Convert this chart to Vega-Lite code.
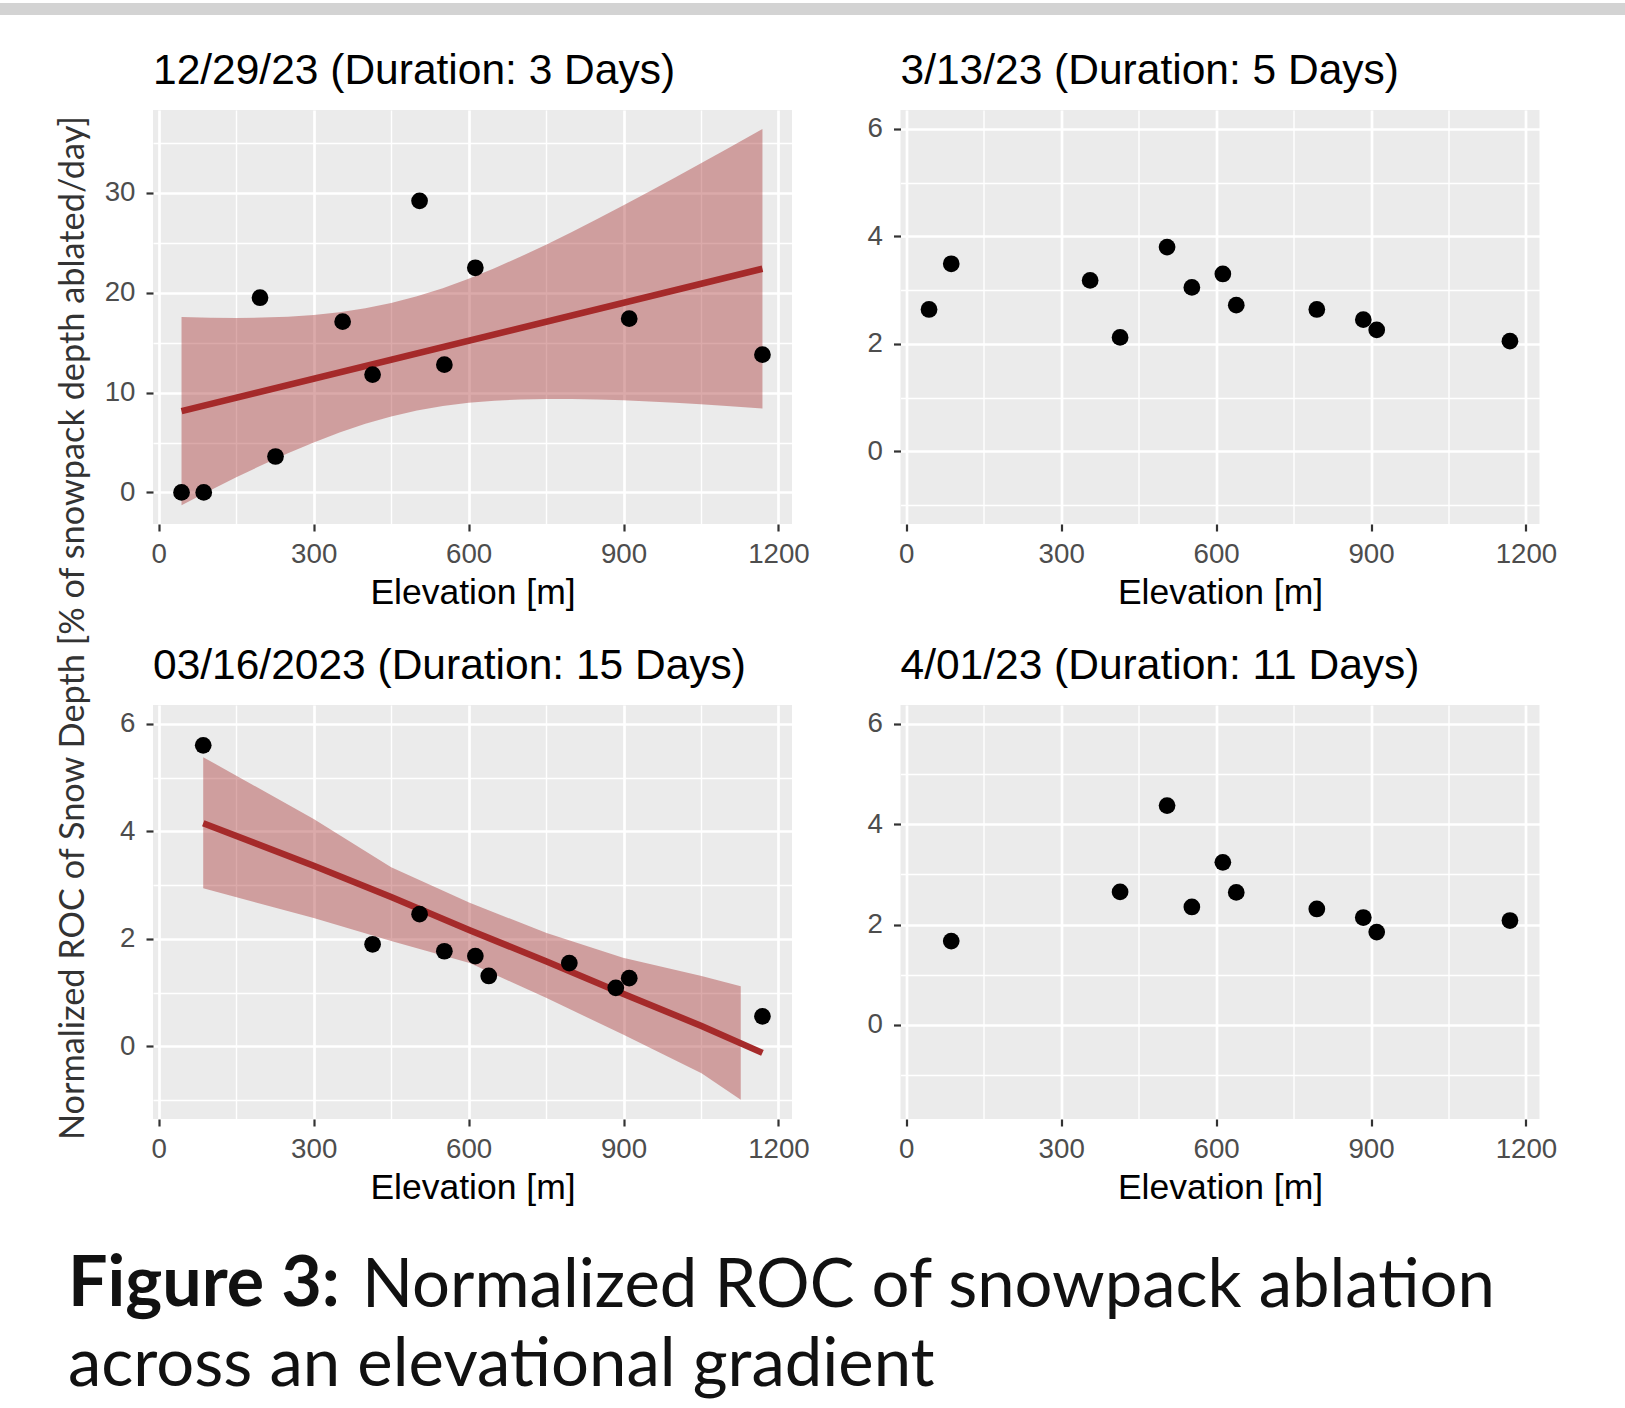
{
  "$schema": "https://vega.github.io/schema/vega-lite/v6.json",
  "padding": {"left": 0, "top": 3, "right": 0, "bottom": 0},
  "background": "white",
  "config": {
    "view": {"stroke": null},
    "font": "Liberation Sans",
    "axis": {"domain": false, "grid": true, "gridColor": "#FFFFFF", "tickColor": "#333333", "tickWidth": 2.2, "tickSize": 7, "labelFont": "Liberation Sans", "labelFontSize": 27.7, "labelColor": "#4D4D4D", "labelOverlap": false, "labelFlush": false, "labelBound": false, "titleFont": "Liberation Sans", "titleFontSize": 35.5, "titleFontWeight": "normal", "titleColor": "#000000"},
    "axisX": {"labelPadding": 9, "titlePadding": 8},
    "axisY": {"labelPadding": 11},
    "title": {"font": "Liberation Sans", "fontSize": 42.5, "fontWeight": "normal", "color": "#000000", "anchor": "start", "frame": "group", "baseline": "alphabetic", "offset": 17.5}
  },
  "datasets": {
    "empty": [],
    "tl_pts": [{"elev": 44, "v": 0}, {"elev": 87, "v": 0}, {"elev": 196, "v": 19.5}, {"elev": 226, "v": 3.6}, {"elev": 356, "v": 17.1}, {"elev": 414, "v": 11.8}, {"elev": 505, "v": 29.2}, {"elev": 553, "v": 12.8}, {"elev": 613, "v": 22.5}, {"elev": 911, "v": 17.4}, {"elev": 1169, "v": 13.8}],
    "tl_fit": [{"elev": 44, "v": 8.15}, {"elev": 1169, "v": 22.4}],
    "tl_band": [{"elev": 44, "lo": -1.28, "hi": 17.58}, {"elev": 100, "lo": 0.22, "hi": 17.5}, {"elev": 150, "lo": 1.51, "hi": 17.47}, {"elev": 200, "lo": 2.75, "hi": 17.51}, {"elev": 250, "lo": 3.92, "hi": 17.6}, {"elev": 300, "lo": 5.01, "hi": 17.77}, {"elev": 350, "lo": 6.01, "hi": 18.05}, {"elev": 400, "lo": 6.88, "hi": 18.44}, {"elev": 450, "lo": 7.6, "hi": 18.98}, {"elev": 500, "lo": 8.2, "hi": 19.64}, {"elev": 550, "lo": 8.66, "hi": 20.46}, {"elev": 600, "lo": 8.98, "hi": 21.4}, {"elev": 650, "lo": 9.19, "hi": 22.45}, {"elev": 700, "lo": 9.32, "hi": 23.6}, {"elev": 750, "lo": 9.37, "hi": 24.81}, {"elev": 800, "lo": 9.36, "hi": 26.08}, {"elev": 850, "lo": 9.32, "hi": 27.4}, {"elev": 900, "lo": 9.23, "hi": 28.75}, {"elev": 950, "lo": 9.11, "hi": 30.13}, {"elev": 1000, "lo": 8.98, "hi": 31.54}, {"elev": 1050, "lo": 8.82, "hi": 32.96}, {"elev": 1100, "lo": 8.65, "hi": 34.39}, {"elev": 1169, "lo": 8.4, "hi": 36.4}],
    "tr_pts": [{"elev": 44, "v": 2.64}, {"elev": 87, "v": 3.49}, {"elev": 356, "v": 3.18}, {"elev": 414, "v": 2.12}, {"elev": 505, "v": 3.8}, {"elev": 553, "v": 3.05}, {"elev": 613, "v": 3.3}, {"elev": 639, "v": 2.72}, {"elev": 795, "v": 2.64}, {"elev": 885, "v": 2.45}, {"elev": 911, "v": 2.26}, {"elev": 1169, "v": 2.05}],
    "bl_pts": [{"elev": 86, "v": 5.6}, {"elev": 414, "v": 1.9}, {"elev": 505, "v": 2.46}, {"elev": 553, "v": 1.77}, {"elev": 613, "v": 1.68}, {"elev": 639, "v": 1.31}, {"elev": 795, "v": 1.55}, {"elev": 885, "v": 1.09}, {"elev": 911, "v": 1.27}, {"elev": 1169, "v": 0.56}],
    "bl_fit": [{"elev": 86, "v": 4.15}, {"elev": 300, "v": 3.36}, {"elev": 450, "v": 2.78}, {"elev": 602, "v": 2.16}, {"elev": 751, "v": 1.58}, {"elev": 899, "v": 0.98}, {"elev": 1051, "v": 0.38}, {"elev": 1169, "v": -0.12}],
    "bl_band": [{"elev": 86, "lo": 2.94, "hi": 5.38}, {"elev": 300, "lo": 2.39, "hi": 4.23}, {"elev": 450, "lo": 1.96, "hi": 3.33}, {"elev": 602, "lo": 1.55, "hi": 2.67}, {"elev": 751, "lo": 0.9, "hi": 2.11}, {"elev": 899, "lo": 0.22, "hi": 1.65}, {"elev": 1051, "lo": -0.5, "hi": 1.31}, {"elev": 1127, "lo": -0.99, "hi": 1.12}],
    "br_pts": [{"elev": 87, "v": 1.67}, {"elev": 414, "v": 2.65}, {"elev": 505, "v": 4.37}, {"elev": 553, "v": 2.35}, {"elev": 613, "v": 3.24}, {"elev": 639, "v": 2.64}, {"elev": 795, "v": 2.31}, {"elev": 885, "v": 2.14}, {"elev": 911, "v": 1.85}, {"elev": 1169, "v": 2.08}]
  },
  "spacing": 35,
  "vconcat": [
    {"width": 1625, "height": 12, "view": {"fill": "#D3D3D3", "stroke": null}, "data": {"name": "empty"}, "mark": "point"},
    {
      "spacing": 43,
      "vconcat": [
        {
          "spacing": 55,
          "hconcat": [
            {"width": 1, "height": 1, "data": {"name": "empty"}, "mark": "point"},
            {
              "columns": 2,
              "spacing": {"row": 33, "column": 56.5},
              "title": {"text": "Normalized ROC of Snow Depth [% of snowpack depth ablated/day]", "orient": "left", "anchor": "middle", "frame": "bounds", "font": "Lato", "fontSize": 34.3, "fontWeight": "normal", "color": "#333333", "baseline": "alphabetic", "offset": -13.8},
              "concat": [
                {
                  "width": 639, "height": 414,
                  "view": {"fill": "#EBEBEB", "stroke": null},
                  "title": {"text": "12/29/23 (Duration: 3 Days)"},
                  "encoding": {"x": {"field": "elev", "type": "quantitative", "scale": {"domain": [-11.25, 1226.25], "nice": false, "zero": false}, "axis": {"title": "Elevation [m]", "values": [0, 150, 300, 450, 600, 750, 900, 1050, 1200], "format": "d", "labelExpr": "datum.value % 300 === 0 ? datum.label : ''", "gridWidth": {"condition": {"test": "datum.value % 300 === 0", "value": 2.7}, "value": 1.4}, "tickOpacity": {"condition": {"test": "datum.value % 300 === 0", "value": 1}, "value": 0}}}},
                  "layer": [
                    {"data": {"name": "tl_band"}, "mark": {"type": "area", "color": "#A52A2A", "opacity": 0.4}, "encoding": {"y": {"field": "lo", "type": "quantitative", "scale": {"domain": [-3.16, 38.3], "nice": false, "zero": false}, "axis": {"title": null, "values": [0, 5, 10, 15, 20, 25, 30, 35], "format": "d", "labelExpr": "datum.value % 10 === 0 ? datum.label : ''", "gridWidth": {"condition": {"test": "datum.value % 10 === 0", "value": 2.7}, "value": 1.4}, "tickOpacity": {"condition": {"test": "datum.value % 10 === 0", "value": 1}, "value": 0}}}, "y2": {"field": "hi"}}},
                    {"data": {"name": "tl_fit"}, "mark": {"type": "line", "color": "#A52A2A", "strokeWidth": 6.5}, "encoding": {"y": {"field": "v", "type": "quantitative", "scale": {"domain": [-3.16, 38.3], "nice": false, "zero": false}, "axis": {"title": null, "values": [0, 5, 10, 15, 20, 25, 30, 35], "format": "d", "labelExpr": "datum.value % 10 === 0 ? datum.label : ''", "gridWidth": {"condition": {"test": "datum.value % 10 === 0", "value": 2.7}, "value": 1.4}, "tickOpacity": {"condition": {"test": "datum.value % 10 === 0", "value": 1}, "value": 0}}}}},
                    {"data": {"name": "tl_pts"}, "mark": {"type": "circle", "color": "#000000", "opacity": 1, "size": 280}, "encoding": {"y": {"field": "v", "type": "quantitative", "scale": {"domain": [-3.16, 38.3], "nice": false, "zero": false}, "axis": {"title": null, "values": [0, 5, 10, 15, 20, 25, 30, 35], "format": "d", "labelExpr": "datum.value % 10 === 0 ? datum.label : ''", "gridWidth": {"condition": {"test": "datum.value % 10 === 0", "value": 2.7}, "value": 1.4}, "tickOpacity": {"condition": {"test": "datum.value % 10 === 0", "value": 1}, "value": 0}}}}}
                  ]
                },
                {
                  "width": 639, "height": 414,
                  "view": {"fill": "#EBEBEB", "stroke": null},
                  "title": {"text": "3/13/23 (Duration: 5 Days)"},
                  "data": {"name": "tr_pts"},
                  "mark": {"type": "circle", "color": "#000000", "opacity": 1, "size": 280},
                  "encoding": {
                    "x": {"field": "elev", "type": "quantitative", "scale": {"domain": [-11.25, 1226.25], "nice": false, "zero": false}, "axis": {"title": "Elevation [m]", "values": [0, 150, 300, 450, 600, 750, 900, 1050, 1200], "format": "d", "labelExpr": "datum.value % 300 === 0 ? datum.label : ''", "gridWidth": {"condition": {"test": "datum.value % 300 === 0", "value": 2.7}, "value": 1.4}, "tickOpacity": {"condition": {"test": "datum.value % 300 === 0", "value": 1}, "value": 0}}},
                    "y": {"field": "v", "type": "quantitative", "scale": {"domain": [-1.35, 6.35], "nice": false, "zero": false}, "axis": {"title": null, "values": [-1, 0, 1, 2, 3, 4, 5, 6], "format": "d", "labelExpr": "datum.value % 2 === 0 ? datum.label : ''", "gridWidth": {"condition": {"test": "datum.value % 2 === 0", "value": 2.7}, "value": 1.4}, "tickOpacity": {"condition": {"test": "datum.value % 2 === 0", "value": 1}, "value": 0}}}
                  }
                },
                {
                  "width": 639, "height": 414,
                  "view": {"fill": "#EBEBEB", "stroke": null},
                  "title": {"text": "03/16/2023 (Duration: 15 Days)"},
                  "encoding": {"x": {"field": "elev", "type": "quantitative", "scale": {"domain": [-11.25, 1226.25], "nice": false, "zero": false}, "axis": {"title": "Elevation [m]", "values": [0, 150, 300, 450, 600, 750, 900, 1050, 1200], "format": "d", "labelExpr": "datum.value % 300 === 0 ? datum.label : ''", "gridWidth": {"condition": {"test": "datum.value % 300 === 0", "value": 2.7}, "value": 1.4}, "tickOpacity": {"condition": {"test": "datum.value % 300 === 0", "value": 1}, "value": 0}}}},
                  "layer": [
                    {"data": {"name": "bl_band"}, "mark": {"type": "area", "color": "#A52A2A", "opacity": 0.4}, "encoding": {"y": {"field": "lo", "type": "quantitative", "scale": {"domain": [-1.35, 6.35], "nice": false, "zero": false}, "axis": {"title": null, "values": [-1, 0, 1, 2, 3, 4, 5, 6], "format": "d", "labelExpr": "datum.value % 2 === 0 ? datum.label : ''", "gridWidth": {"condition": {"test": "datum.value % 2 === 0", "value": 2.7}, "value": 1.4}, "tickOpacity": {"condition": {"test": "datum.value % 2 === 0", "value": 1}, "value": 0}}}, "y2": {"field": "hi"}}},
                    {"data": {"name": "bl_fit"}, "mark": {"type": "line", "color": "#A52A2A", "strokeWidth": 6.5}, "encoding": {"y": {"field": "v", "type": "quantitative", "scale": {"domain": [-1.35, 6.35], "nice": false, "zero": false}, "axis": {"title": null, "values": [-1, 0, 1, 2, 3, 4, 5, 6], "format": "d", "labelExpr": "datum.value % 2 === 0 ? datum.label : ''", "gridWidth": {"condition": {"test": "datum.value % 2 === 0", "value": 2.7}, "value": 1.4}, "tickOpacity": {"condition": {"test": "datum.value % 2 === 0", "value": 1}, "value": 0}}}}},
                    {"data": {"name": "bl_pts"}, "mark": {"type": "circle", "color": "#000000", "opacity": 1, "size": 280}, "encoding": {"y": {"field": "v", "type": "quantitative", "scale": {"domain": [-1.35, 6.35], "nice": false, "zero": false}, "axis": {"title": null, "values": [-1, 0, 1, 2, 3, 4, 5, 6], "format": "d", "labelExpr": "datum.value % 2 === 0 ? datum.label : ''", "gridWidth": {"condition": {"test": "datum.value % 2 === 0", "value": 2.7}, "value": 1.4}, "tickOpacity": {"condition": {"test": "datum.value % 2 === 0", "value": 1}, "value": 0}}}}}
                  ]
                },
                {
                  "width": 639, "height": 414,
                  "view": {"fill": "#EBEBEB", "stroke": null},
                  "title": {"text": "4/01/23 (Duration: 11 Days)"},
                  "data": {"name": "br_pts"},
                  "mark": {"type": "circle", "color": "#000000", "opacity": 1, "size": 280},
                  "encoding": {
                    "x": {"field": "elev", "type": "quantitative", "scale": {"domain": [-11.25, 1226.25], "nice": false, "zero": false}, "axis": {"title": "Elevation [m]", "values": [0, 150, 300, 450, 600, 750, 900, 1050, 1200], "format": "d", "labelExpr": "datum.value % 300 === 0 ? datum.label : ''", "gridWidth": {"condition": {"test": "datum.value % 300 === 0", "value": 2.7}, "value": 1.4}, "tickOpacity": {"condition": {"test": "datum.value % 300 === 0", "value": 1}, "value": 0}}},
                    "y": {"field": "v", "type": "quantitative", "scale": {"domain": [-1.875, 6.375], "nice": false, "zero": false}, "axis": {"title": null, "values": [-1, 0, 1, 2, 3, 4, 5, 6], "format": "d", "labelExpr": "datum.value % 2 === 0 ? datum.label : ''", "gridWidth": {"condition": {"test": "datum.value % 2 === 0", "value": 2.7}, "value": 1.4}, "tickOpacity": {"condition": {"test": "datum.value % 2 === 0", "value": 1}, "value": 0}}}
                  }
                }
              ]
            }
          ]
        },
        {
          "spacing": 10,
          "vconcat": [
            {
              "bounds": "flush",
              "spacing": 0,
              "hconcat": [
                {"width": 68, "height": 1, "data": {"name": "empty"}, "mark": "point"},
                {"width": 294, "height": 1, "data": {"name": "empty"}, "mark": "point", "title": {"text": "Figure 3:", "font": "Lato", "fontSize": 70, "fontWeight": "bold", "color": "#111111", "offset": 0}},
                {"width": 1, "height": 1, "data": {"name": "empty"}, "mark": "point", "title": {"text": "Normalized ROC of snowpack ablation", "font": "Lato", "fontSize": 67, "fontWeight": "normal", "color": "#111111", "offset": 0}}
              ]
            },
            {
              "bounds": "flush",
              "spacing": 0,
              "hconcat": [
                {"width": 68, "height": 1, "data": {"name": "empty"}, "mark": "point"},
                {"width": 1, "height": 1, "data": {"name": "empty"}, "mark": "point", "title": {"text": "across an elevational gradient", "font": "Lato", "fontSize": 67, "fontWeight": "normal", "color": "#111111", "offset": 0}}
              ]
            }
          ]
        }
      ]
    }
  ]
}
